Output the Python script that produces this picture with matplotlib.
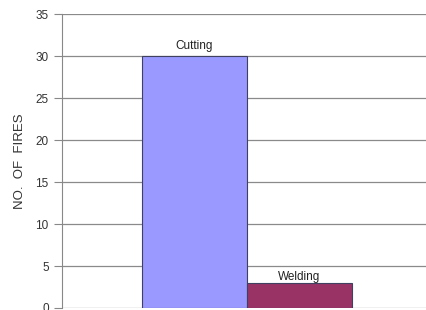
import matplotlib.pyplot as plt

plt.rcParams['font.family'] = ['Liberation Sans', 'DejaVu Sans']

categories = ["Cutting", "Welding"]
fires = [30, 3]
colors = ["#9999FF", "#993366"]
yticks = [0, 5, 10, 15, 20, 25, 30, 35]

fig = plt.figure(figsize=(4.27, 3.10), dpi=100)
ax = fig.add_axes([0.145, 0.0065, 0.867, 0.948])

xs = list(range(len(categories)))
ax.bar(xs, fires, width=1.0, color=colors, edgecolor="#404060", linewidth=0.8, zorder=3)
label_pad = [0.5, -0.05]
for x, v, name, pad in zip(xs, fires, categories, label_pad):
    ax.text(x, v + pad, name, ha="center", va="bottom", fontsize=8.5, color="#222222", zorder=4)

ax.set_xlim(-1.262, 2.262)
ax.set_ylim(0, 35)
ax.set_yticks(yticks)
ax.set_xticks([])
ax.yaxis.grid(True, color="#8a8a8a", linewidth=0.9, zorder=0)
ax.tick_params(axis="y", length=6, color="#888888", labelsize=8.5, labelcolor="#333333")
for s in ["top", "right", "bottom"]:
    ax.spines[s].set_visible(False)
ax.spines["left"].set_color("#888888")
ax.set_ylabel("NO.  OF  FIRES", fontsize=9.5, color="#333333", labelpad=7)

fig.savefig("out.png", dpi=100)
